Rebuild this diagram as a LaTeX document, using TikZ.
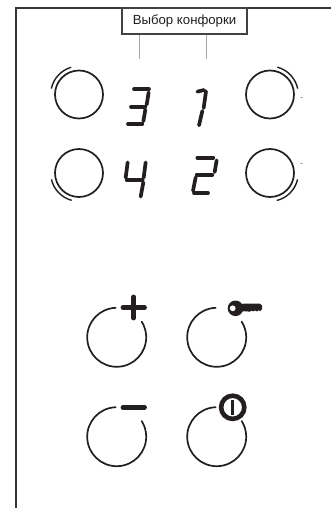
\documentclass[tikz,border=0pt]{standalone}
\usepackage{fontspec}
\setmainfont{Liberation Sans}
\definecolor{ink}{HTML}{231F20}
\tikzset{
  x=1pt,y=-1pt,
  ring/.style={draw=ink,line width=1.7pt,circle,minimum size=48pt,inner sep=0pt},
  halo/.style={draw=ink,line width=1.4pt},
  btn/.style={draw=ink,line width=1.7pt,line cap=round},
  seg/.style={draw=ink,line width=3.7pt,line cap=round},
  symb/.style={draw=ink,line width=4.8pt,line cap=round},
  leader/.style={draw=gray!70,line width=.7pt},
  frame/.style={draw=ink!90,line width=2pt},
  label/.style={draw=ink!85,line width=1.1pt,fill=white,minimum width=125pt,minimum height=26pt,inner sep=0pt,font=\fontsize{13.2}{15}\selectfont,text=ink},
  speck/.style={draw=gray!60,line width=.7pt},
  hub/.style={circle,inner sep=0pt,minimum size=1pt},
}
\newcommand{\sgm}[4]{\draw[seg] ({#1/3},{#2/3}) -- ({#3/3},{#4/3});}
\newcommand{\halo}[3]{\draw[halo] (#1) ++(-#2:28.3) arc[start angle=-#2,end angle=-#3,radius=28.3];}
\newcommand{\btnarc}[1]{\draw[btn] (#1) ++(-92:29.5) arc[start angle=-92,end angle=-392,radius=29.5];}
\begin{document}
\begin{tikzpicture}
\useasboundingbox (0,0) rectangle (331,508);
\draw[frame] (15.5,508) -- (15.5,8) -- (331,8);
\node[label] (sel) at (184.5,21) {Выбор конфорки};
\coordinate (l1) at (139.5,59);
\coordinate (l2) at (206,59);
\draw[leader] (sel.south -| l1) -- (l1);
\draw[leader] (sel.south -| l2) -- (l2);
% zones
\node[ring] (z3) at (79,94.5) {};
\node[ring] (z1) at (270,94.5) {};
\node[ring] (z4) at (79,173) {};
\node[ring] (z2) at (270,173) {};
\halo{z3}{168}{106}
\halo{z1}{75}{12}
\halo{z4}{193}{255}
\halo{z2}{-13}{-76}
\coordinate (s1) at (300,97);
\coordinate (s2) at (302.5,97);
\coordinate (s3) at (300,163.5);
\coordinate (s4) at (302.5,163.5);
\draw[speck] (s1) -- (s2);
\draw[speck] (s3) -- (s4);
% digit 3
\sgm{402}{268}{447}{268}
\sgm{446}{277}{440}{314}
\sgm{393}{320}{436}{320}
\sgm{436}{329}{430}{364}
\sgm{384}{372}{427}{372}
% digit 1
\sgm{592}{275}{612}{270}
\sgm{618}{274}{611}{324}
\sgm{607}{333}{597}{376}
% digit 4
\sgm{383}{487}{377}{533}
\sgm{380}{540}{428}{540}
\sgm{437}{487}{431}{533}
\sgm{430}{547}{422}{590}
% digit 2
\sgm{592}{473}{640}{473}
\sgm{650}{481}{644}{516}
\sgm{590}{524}{637}{524}
\sgm{587}{532}{579}{572}
\sgm{582}{579}{624}{579}
% buttons
\coordinate (b1) at (116.7,337.3);
\coordinate (b2) at (216.7,337.3);
\coordinate (b3) at (116.7,436.7);
\coordinate (b4) at (216.7,436.7);
\btnarc{b1}
\btnarc{b2}
\btnarc{b3}
\btnarc{b4}
% plus
\coordinate (p1) at (123,307.7);
\coordinate (p2) at (144.5,307.7);
\coordinate (p3) at (133.7,297);
\coordinate (p4) at (133.7,318);
\draw[symb] (p1) -- (p2);
\draw[symb] (p3) -- (p4);
% minus
\coordinate (m1) at (123,407.3);
\coordinate (m2) at (144.5,407.3);
\draw[symb] (m1) -- (m2);
% key
\fill[ink] (235.5,308.3) circle[radius=7.8];
\fill[ink] (239,304.6) -- (244,303.6) -- (260,303.6) -- (262,305.5) -- (262,309) -- (260.5,311) -- (258.5,310.4) -- (257,311.4) -- (255,310.4) -- (253.5,311.4) -- (251.5,310.6) -- (250,311.6) -- (243,311.2) -- (239,313) -- cycle;
\fill[white] (232.7,308.3) circle[radius=2.9];
% power
\node[hub] (pw) at (232.7,407.3) {};
\draw[draw=ink,line width=4.6pt,fill=white] (pw) circle[radius=11.6];
\coordinate (w1) at (232.7,400);
\coordinate (w2) at (232.7,415);
\draw[ink,line width=2.6pt] (w1) -- (w2);
\end{tikzpicture}
\end{document}
